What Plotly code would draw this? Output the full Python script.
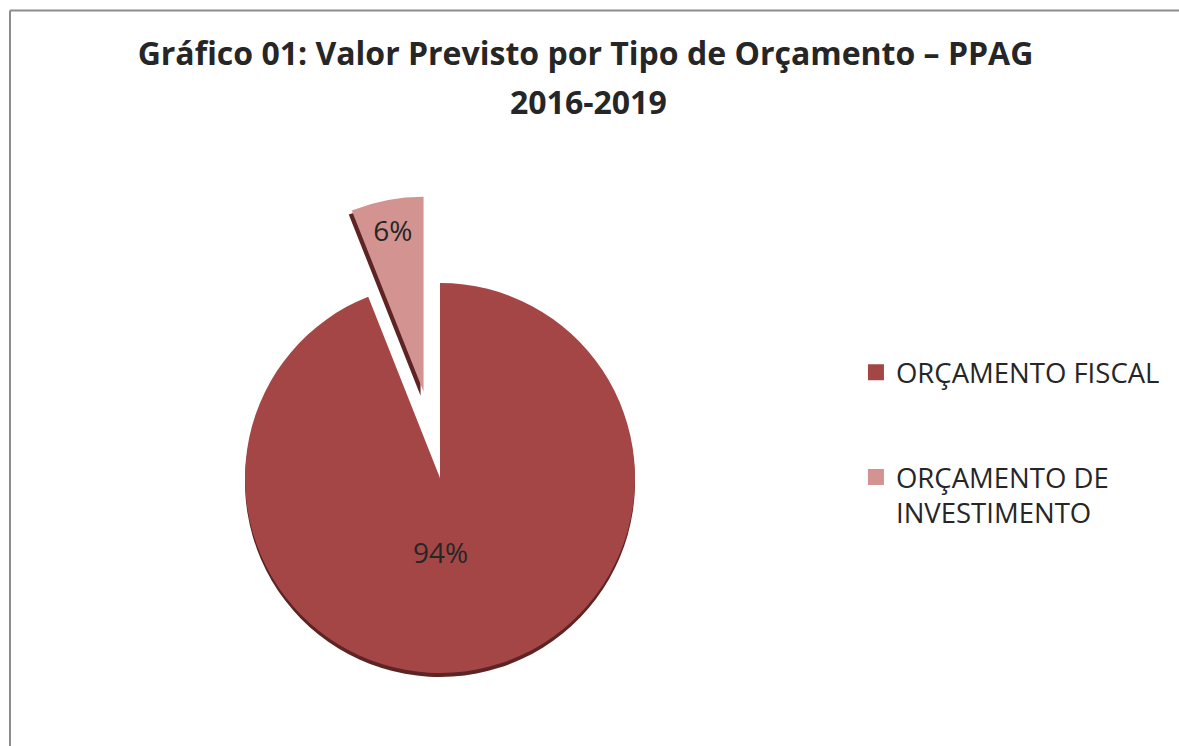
import math
import plotly.graph_objects as go

# ---- data ----
labels = ["ORÇAMENTO FISCAL", "ORÇAMENTO DE INVESTIMENTO"]
legend_labels = ["ORÇAMENTO FISCAL", "ORÇAMENTO DE<br>INVESTIMENTO"]
shares = [94, 6]
title_line1 = "Gráfico 01: Valor Previsto por Tipo de Orçamento – PPAG"
title_line2 = "2016-2019"

# ---- style ----
colors = ["#A44646", "#D39391"]
shadow = "#5E2424"
clear = "rgba(0,0,0,0)"
FONT = "Open Sans"
TXT = "#262626"
W, H = 1179, 746
CX, CY, R = 440, 478, 195          # pie centre / radius in pixels
PULL = 0.45                          # explode fraction of the small slice

def dom(cx, cy, r):
    return dict(x=[(cx - r) / W, (cx + r) / W],
                y=[(H - cy - r) / H, (H - cy + r) / H])

total = sum(shares)
mid = 2 * math.pi * (shares[0] + shares[1] / 2) / total   # clockwise from 12 o'clock
cx2 = CX + R * PULL * math.sin(mid)
cy2 = CY - R * PULL * math.cos(mid)

fig = go.Figure()

common = dict(labels=labels, values=shares, sort=False, direction="clockwise",
              rotation=0, showlegend=False, hoverinfo="skip",
              textposition="inside", insidetextorientation="horizontal",
              textfont=dict(family=FONT, size=28, color=TXT))

# shadows (3D rim)
fig.add_trace(go.Pie(**{**common, "texttemplate": ["", ""]},
                     marker=dict(colors=[shadow, clear]), domain=dom(CX, CY + 4, R)))
fig.add_trace(go.Pie(**{**common, "texttemplate": ["", ""]},
                     marker=dict(colors=[clear, shadow]), domain=dom(cx2 - 3, cy2 + 4, R)))
# main slice (its label is placed as an annotation below)
fig.add_trace(go.Pie(**{**common, "texttemplate": ["", ""]},
                     marker=dict(colors=[colors[0], clear]), domain=dom(CX, CY, R)))
# exploded slice
fig.add_trace(go.Pie(**{**common, "texttemplate": ["", "%{percent:.0%}"]},
                     marker=dict(colors=[clear, colors[1]]), domain=dom(cx2, cy2, R)))

# legend entries
for i, (lab, col) in enumerate(zip(legend_labels, colors)):
    fig.add_trace(go.Scatter(x=[None], y=[None], mode="markers", name=lab,
                             legendgroup=f"g{i}",
                             marker=dict(symbol="square", size=16, color=col)))

annotations = [
    dict(text=title_line2, x=588 / W, y=1 - 102 / H, xref="paper", yref="paper",
         xanchor="center", yanchor="middle", showarrow=False,
         font=dict(family=FONT, size=32, color=TXT, weight="bold")),
    dict(text=f"{round(100 * shares[0] / total)}%", x=CX / W, y=1 - (CY + 0.38 * R) / H,
         xref="paper", yref="paper", xanchor="center", yanchor="middle", showarrow=False,
         font=dict(family=FONT, size=28, color=TXT)),
]

border = dict(color="#8C8C8C", width=2)
fig.update_layout(
    width=W, height=H,
    margin=dict(l=0, r=0, t=0, b=0),
    paper_bgcolor="white", plot_bgcolor="white",
    xaxis=dict(visible=False), yaxis=dict(visible=False),
    uniformtext=dict(minsize=28, mode="show"),
    title=dict(text=title_line1, x=585.5 / W, xanchor="center",
               yref="container", y=1 - 54 / H, yanchor="middle",
               font=dict(family=FONT, size=32, color=TXT, weight="bold")),
    legend=dict(x=0.726, y=0.5338, xanchor="left", yanchor="top",
                font=dict(family=FONT, size=27.5, color=TXT),
                tracegroupgap=66, valign="top", bgcolor=clear),
    annotations=annotations,
    shapes=[
        dict(type="line", xref="paper", yref="paper",
             x0=10 / W, x1=1, y0=1 - 10.5 / H, y1=1 - 10.5 / H, line=border),
        dict(type="line", xref="paper", yref="paper",
             x0=10 / W, x1=10 / W, y0=0, y1=1 - 10.5 / H, line=border),
    ],
    font=dict(family=FONT),
)

fig.write_html("out.html", config={"displayModeBar": False},
               post_script="document.body.style.margin='0';document.body.style.overflow='hidden';")
